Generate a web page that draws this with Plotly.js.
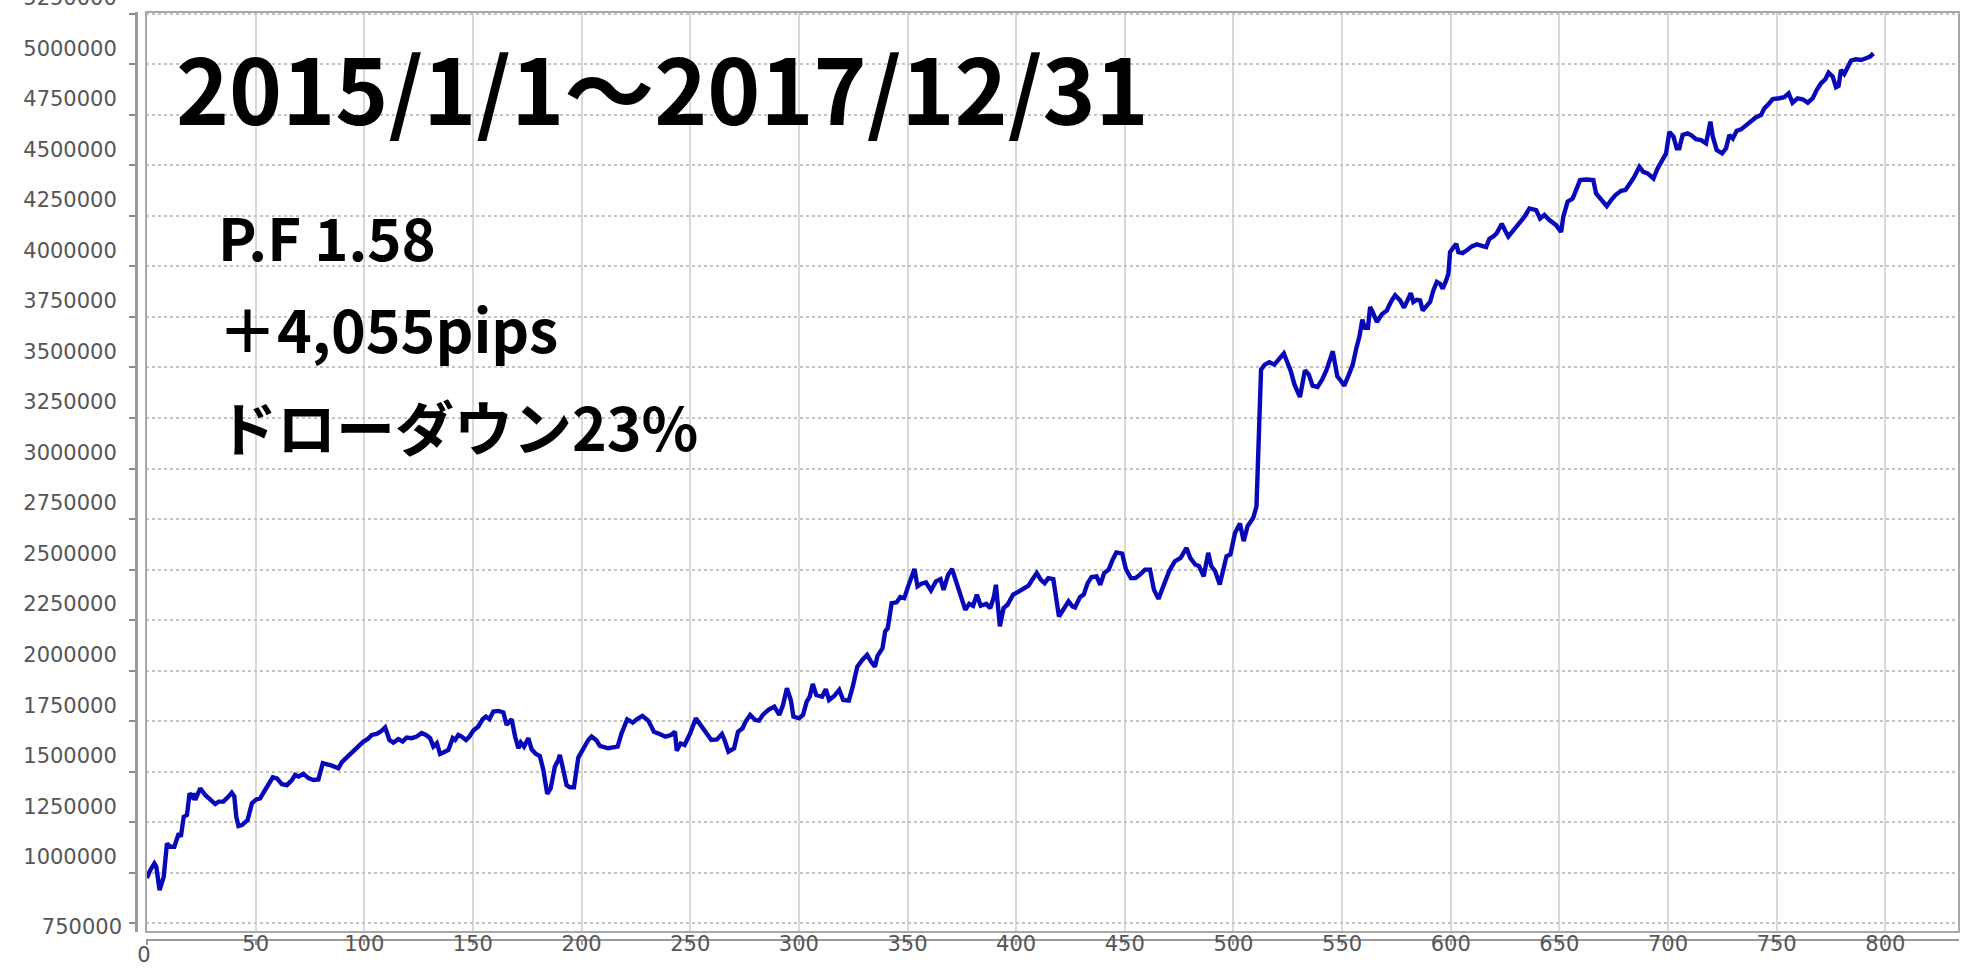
<!DOCTYPE html>
<html>
<head>
<meta charset="utf-8">
<script src="https://cdn.plot.ly/plotly-3.0.1.min.js"></script>
<style>
  html, body { margin: 0; padding: 0; background: #ffffff; }
  #chart { width: 1978px; height: 977px; }
</style>
</head>
<body>
<div id="chart"></div>
<script>
// ---- data ----
const tradeNo = [
  0, 1.5, 3.4, 4.3, 5.8, 7.7, 9.2, 10.7, 12.6, 14.6, 15.6, 16.9, 18.4, 19.6, 20.7, 21.4, 22.2, 24.5, 26.8, 29.1,
  31.4, 33, 35.2, 37.5, 39, 40.2, 41.1, 42.1, 43.7, 46.3, 48.3, 50.3, 52.1, 53.6, 55.9, 57.9, 59.8, 62.1, 64.4, 66.7,
  68.2, 69.7, 72, 74.3, 76.6, 78.9, 80.9, 82.8, 85.1, 88.1, 89.7, 91.6, 93.5, 95.3, 97.3, 99.6, 101.5, 103.5, 105.7, 107.6,
  109.6, 111.6, 113.4, 115.7, 117.7, 119.5, 121.8, 124.1, 126.4, 128.4, 130.3, 131.8, 133.4, 134.9, 136.4, 138.7, 140.7, 141.8, 143.3, 144.8,
  146.8, 148.4, 150.2, 152.5, 154.5, 156, 157.6, 159.4, 161.7, 164, 165.5, 167.8, 169.4, 170.9, 172, 173.5, 175.5, 177, 179, 180.8,
  182.4, 184.2, 185.8, 187.7, 189.3, 190, 191.6, 193.1, 194.6, 196.5, 198.5, 200.8, 203.1, 204.6, 206.9, 208.4,
  212.2, 216.6, 218.4, 221, 223.6, 225.4, 228, 230.7, 233.3, 235.9, 238.6, 241.2, 243, 243.8, 245.6, 247.4, 250, 252.6, 254.7, 257,
  259.7, 262.3, 264.6, 265.8, 267.6, 270.2, 272, 274.1, 275.5, 277.6, 279.9, 281.7, 283.4, 286, 288.7, 291, 292.7, 294.5, 296.3, 297.5,
  300.1, 301.9, 303.6, 305, 306.4, 308, 310.7, 312.4, 313.9, 316.3, 318.6, 320.4, 323, 324.8, 326.9, 329.2, 331.4, 333.2, 335, 336.2,
  338.5, 339.7, 340.9, 342.7, 345, 346.7, 348.5, 350.3, 352, 353.2, 354.6, 356.4, 358.5, 360.8, 363.1, 365.2, 366.6, 368.7, 370.5, 372.2,
  374.9, 376.6, 378.4, 380.2, 381.9, 383.7, 386.3, 388.1, 389.8, 390.7, 392.5, 394.2, 396, 398.6, 401.3, 403.6, 405.7, 407.4, 409.5, 411.3,
  413.1, 414.8, 417.1, 419.7, 421.9, 424.1, 425.9, 427.1, 429.4, 431.1, 432.9, 434.7, 437, 438.7, 440.5, 442.6, 444.4, 446.1, 448.8, 450.5,
  452.8, 454.9, 457, 459.3, 461.6,
  463.4, 465.5, 467.8, 470.4, 473, 475.7, 478.4, 480.1, 482.4, 484.2, 486.3, 488.4, 489.8, 491.6, 493.7, 495.4, 496.8, 498.6, 500.7, 503,
  504.7, 506.5, 509.1, 510.6, 511.3, 512.7, 514.4, 516.5, 518.8, 521.1, 523.2, 524.6, 526.4, 528.1, 530.6, 532.9, 534.7, 536.4, 538.7, 540.8,
  542.9, 545.7, 547.8, 549.6, 551, 553.1, 554.9, 556.6, 558, 559.3, 560.5, 561.9,
  562.9, 564.1, 565.2, 566, 568.3, 570.6, 572.4, 574.4, 576.7, 578.5, 580.1, 581.6, 582.8, 584.4, 585.9, 587.1, 588.7, 590.5, 592, 593.6,
  595.1, 596.3, 597.9, 598.9, 599.7, 600.9, 602.5, 603.5, 605.5, 607.7, 609.7, 612, 614.3, 616.3, 617.8, 619.6, 621.2, 623.5, 625, 626.5,
  628.8,
  631.6, 633.9, 636.2, 639.3, 641.1, 643.1, 645.4, 648.5, 650.8, 651.8, 653.8, 656.1, 658, 659.5, 662.3, 665.6, 666.9, 669.2, 671.8, 673.8,
  675.8, 678.4, 680.4, 682.5, 684.5, 686.8, 688.6, 690.6, 693.3, 695.2, 697.5, 699.1, 700.6, 702.5, 704, 705.2, 706.7, 709, 710.6, 712.9,
  715.2, 717.5, 719.5, 720.6, 722.4, 724.9, 726.7, 728.2, 729.8, 731.6, 733.6, 735.9, 738.2, 740.5, 742.8, 744.3, 745.9, 748.2, 751.2, 753.5,
  755.5, 757.3, 759.6, 761.9, 764.3, 766.6, 768.4, 770.4, 772.4, 773.9, 775.8, 777.3, 778.5, 779.6, 781.1, 782.7, 784.2, 786.5, 788.8, 791.1,
  793, 794.5
];
const equity = [
  975000, 1013000, 1046000, 1030000, 914000, 980000, 1145000, 1129000, 1129000, 1195000, 1178000, 1277000, 1286000, 1393000, 1377000, 1393000, 1360000, 1418000, 1385000, 1360000,
  1340000, 1352000, 1352000, 1377000, 1396000, 1377000, 1277000, 1231000, 1236000, 1261000, 1344000, 1363000, 1368000, 1396000, 1434000, 1472000, 1467000, 1438000, 1434000, 1459000,
  1484000, 1476000, 1489000, 1468000, 1459000, 1462000, 1542000, 1539000, 1530000, 1517000, 1547000, 1567000, 1586000, 1611000, 1624000, 1649000, 1661000, 1682000, 1687000, 1699000,
  1719000, 1657000, 1644000, 1661000, 1649000, 1669000, 1666000, 1674000, 1691000, 1682000, 1666000, 1624000, 1641000, 1588000, 1595000, 1608000, 1666000, 1657000, 1682000, 1674000,
  1657000, 1674000, 1704000, 1724000, 1760000, 1773000, 1760000, 1798000, 1801000, 1793000, 1732000, 1760000, 1674000, 1616000, 1644000, 1624000, 1666000, 1611000, 1588000, 1578000,
  1509000, 1390000, 1418000, 1525000, 1558000, 1583000, 1509000, 1434000, 1423000, 1423000, 1570000, 1616000, 1657000, 1674000, 1654000, 1628000,
  1616000, 1624000, 1690000, 1759000, 1743000, 1759000, 1776000, 1753000, 1698000, 1687000, 1673000, 1682000, 1698000, 1604000, 1640000, 1632000, 1690000, 1764000, 1731000, 1690000,
  1657000, 1660000, 1687000, 1657000, 1599000, 1616000, 1698000, 1715000, 1748000, 1781000, 1756000, 1753000, 1781000, 1806000, 1822000, 1781000, 1830000, 1913000, 1855000, 1773000,
  1764000, 1781000, 1847000, 1872000, 1934000, 1880000, 1872000, 1908000, 1855000, 1875000, 1905000, 1855000, 1852000, 1921000, 2020000, 2053000, 2078000, 2045000, 2020000, 2073000,
  2111000, 2194000, 2210000, 2334000, 2338000, 2364000, 2359000, 2417000, 2470000, 2503000, 2417000, 2430000, 2437000, 2397000, 2442000, 2453000, 2400000, 2475000, 2503000, 2450000,
  2359000, 2301000, 2331000, 2321000, 2376000, 2321000, 2331000, 2309000, 2367000, 2425000, 2219000, 2309000, 2326000, 2376000, 2392000, 2404000, 2420000, 2450000, 2483000, 2450000,
  2433000, 2458000, 2453000, 2268000, 2305000, 2343000, 2318000, 2313000, 2364000, 2376000, 2433000, 2463000, 2466000, 2425000, 2483000, 2500000, 2549000, 2585000, 2579000, 2503000,
  2458000, 2458000, 2475000, 2500000, 2500000,
  2401000, 2355000, 2418000, 2492000, 2541000, 2558000, 2607000, 2558000, 2525000, 2517000, 2467000, 2583000, 2517000, 2492000, 2426000, 2500000, 2566000, 2575000, 2681000, 2728000,
  2641000, 2715000, 2756000, 2813000, 3094000, 3489000, 3514000, 3526000, 3514000, 3547000, 3569000, 3531000, 3481000, 3415000, 3354000, 3486000, 3465000, 3410000, 3404000, 3440000,
  3489000, 3580000, 3456000, 3432000, 3410000, 3465000, 3514000, 3597000, 3654000, 3737000, 3696000, 3696000,
  3799000, 3774000, 3741000, 3725000, 3763000, 3782000, 3824000, 3857000, 3832000, 3796000, 3832000, 3868000, 3824000, 3835000, 3832000, 3782000, 3802000, 3824000, 3881000, 3923000,
  3914000, 3890000, 3931000, 3964000, 4071000, 4087000, 4112000, 4071000, 4066000, 4082000, 4099000, 4109000, 4099000, 4096000, 4137000, 4148000, 4165000, 4211000, 4178000, 4148000,
  4178000,
  4212000, 4245000, 4287000, 4279000, 4237000, 4254000, 4229000, 4204000, 4171000, 4246000, 4320000, 4336000, 4386000, 4427000, 4430000, 4427000, 4361000, 4328000, 4298000, 4328000,
  4353000, 4374000, 4378000, 4411000, 4444000, 4493000, 4468000, 4460000, 4435000, 4485000, 4534000, 4559000, 4666000, 4642000, 4584000, 4584000, 4650000, 4658000, 4650000, 4629000,
  4625000, 4609000, 4716000, 4642000, 4576000, 4559000, 4584000, 4650000, 4633000, 4671000, 4678000, 4700000, 4716000, 4738000, 4749000, 4782000, 4799000, 4828000, 4832000, 4837000,
  4856000, 4810000, 4832000, 4827000, 4810000, 4832000, 4873000, 4906000, 4926000, 4959000, 4939000, 4886000, 4893000, 4972000, 4952000, 4988000, 5018000, 5025000, 5021000, 5030000,
  5038000, 5054000
];
const xTickVals = [0, 50, 100, 150, 200, 250, 300, 350, 400, 450, 500, 550, 600, 650, 700, 750, 800];
const xTickLabels = ['0', '50', '100', '150', '200', '250', '300', '350', '400', '450', '500', '550', '600', '650', '700', '750', '800'];
const yTickVals = [750000, 1000000, 1250000, 1500000, 1750000, 2000000, 2250000, 2500000, 2750000, 3000000,
  3250000, 3500000, 3750000, 4000000, 4250000, 4500000, 4750000, 5000000, 5250000];
const yTickLabels = ['750000', '1000000', '1250000', '1500000', '1750000', '2000000', '2250000', '2500000', '2750000', '3000000',
  '3250000', '3500000', '3750000', '4000000', '4250000', '4500000', '4750000', '5000000', '5250000'];
const periodText = '2015/1/1～2017/12/31';
const statLines = ['P.F 1.58', '＋4,055pips', 'ドローダウン23%'];

// ---- layout geometry (pixels) ----
const W = 1978, H = 977;
const M = { l: 136, r: 19, t: 12, b: 37 };
const plotW = W - M.l - M.r, plotH = H - M.t - M.b;
const px = v => (v - M.l) / plotW;          // page x -> paper x
const py = v => (H - M.b - v) / plotH;      // page y -> paper y

const tickFont = { family: 'DejaVu Sans', size: 21, color: '#555555' };
const xRange = [-0.45, 833.9];
const yRange = [707000, 5258700];

const trace = {
  type: 'scatter', mode: 'lines',
  x: tradeNo, y: equity,
  line: { color: '#0808b8', width: 4.4 },
  hoverinfo: 'x+y', showlegend: false
};
const helper = {
  type: 'scatter', mode: 'lines', xaxis: 'x2', yaxis: 'y2',
  x: [tradeNo[0]], y: [equity[0]], line: { width: 0 }, hoverinfo: 'skip', showlegend: false
};

const labelFont = s => ({ family: 'Noto Sans CJK JP', size: s, color: '#000000', weight: 700 });

const layout = {
  width: W, height: H,
  margin: M,
  paper_bgcolor: '#ffffff', plot_bgcolor: '#ffffff',
  showlegend: false,
  xaxis: {
    domain: [px(146), 1], anchor: 'free', position: 0,
    range: xRange, zeroline: false,
    tickmode: 'array', tickvals: xTickVals,
    ticktext: xTickLabels.map((t, i) => i === 0 ? '' : t),
    ticks: 'outside', ticklen: 4, tickwidth: 2, tickcolor: '#9a9a9a',
    showline: true, linecolor: '#9a9a9a', linewidth: 2,
    showgrid: true, gridcolor: '#d8d8d8', gridwidth: 2,
    tickfont: tickFont, ticklabelstandoff: -19
  },
  yaxis: {
    domain: [py(932), 1], anchor: 'free', position: 0,
    range: yRange, zeroline: false,
    tickmode: 'array', tickvals: yTickVals,
    ticktext: yTickLabels.map((t, i) => i === 0 ? '' : t),
    ticks: 'outside', ticklen: 6, tickwidth: 2, tickcolor: '#8a8a8a',
    showline: true, linecolor: '#9a9a9a', linewidth: 3,
    showgrid: true, gridcolor: '#c4c4c4', gridwidth: 2, griddash: 'dot',
    tickfont: tickFont, ticklabelshift: -16, ticklabelstandoff: 8,
    ticklabeloverflow: 'allow'
  },
  xaxis2: {
    overlaying: 'x', domain: [px(146), 1], anchor: 'free', position: 0,
    range: xRange, showgrid: false, zeroline: false, showline: false, ticks: '',
    tickmode: 'array', tickvals: [xTickVals[0]], ticktext: [xTickLabels[0]],
    tickfont: tickFont, ticklabelstandoff: 0, ticklabelshift: -3
  },
  yaxis2: {
    overlaying: 'y', domain: [py(932), 1], anchor: 'free', position: 0,
    range: yRange, showgrid: false, zeroline: false, showline: false, ticks: '',
    tickmode: 'array', tickvals: [yTickVals[0]], ticktext: [yTickLabels[0]],
    tickfont: tickFont, ticklabelshift: 3, ticklabelstandoff: 14
  },
  shapes: [
    { type: 'rect', xref: 'x domain', yref: 'y domain', x0: 0, x1: 1, y0: 0, y1: 1,
      line: { color: '#a8a8a8', width: 2 }, fillcolor: 'rgba(0,0,0,0)', layer: 'above' }
  ],
  annotations: [
    { xref: 'paper', yref: 'paper', x: px(174), y: py(86), xanchor: 'left', yanchor: 'middle',
      text: periodText, showarrow: false, font: labelFont(90) },
    { xref: 'paper', yref: 'paper', x: px(216), y: py(236), xanchor: 'left', yanchor: 'middle',
      text: statLines[0], showarrow: false, font: labelFont(58) },
    { xref: 'paper', yref: 'paper', x: px(216), y: py(327), xanchor: 'left', yanchor: 'middle',
      text: statLines[1], showarrow: false, font: labelFont(59) },
    { xref: 'paper', yref: 'paper', x: px(216), y: py(426), xanchor: 'left', yanchor: 'middle',
      text: statLines[2], showarrow: false, font: labelFont(59) }
  ]
};

Plotly.newPlot('chart', [trace, helper], layout, { staticPlot: true, displayModeBar: false });
</script>
</body>
</html>
